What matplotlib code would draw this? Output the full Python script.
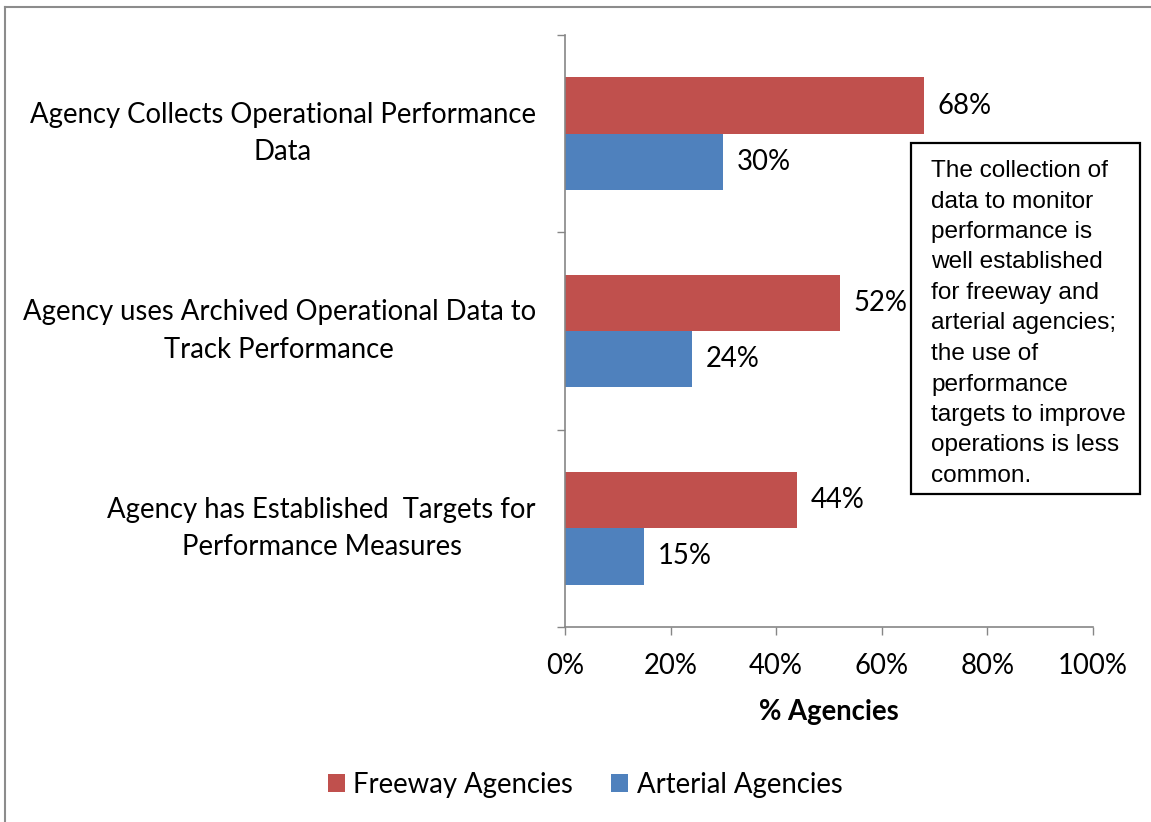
import matplotlib.pyplot as plt
from matplotlib.patches import Rectangle
import numpy as np

CATEGORIES = [
    "Agency Collects Operational Performance\nData",
    "Agency uses Archived Operational Data to\nTrack Performance",
    "Agency has Established  Targets for\nPerformance Measures",
]
FREEWAY = [68, 52, 44]
ARTERIAL = [30, 24, 15]
X_TICKS = [0, 20, 40, 60, 80, 100]
NOTE = ("The collection of\ndata to monitor\nperformance is\nwell established\n"
        "for freeway and\narterial agencies;\nthe use of\nperformance\n"
        "targets to improve\noperations is less\ncommon.")

RED = "#C0504D"
BLUE = "#4F81BD"
AXIS_GREY = "#868686"
W, H = 1151, 822
FS = 19.8

plt.rcParams["font.family"] = ["Lato", "DejaVu Sans"]

fig = plt.figure(figsize=(W / 100, H / 100), dpi=100)
ax = fig.add_axes([565 / W, 1 - 627 / H, (1093 - 565) / W, (627 - 35) / H])

y = np.arange(len(CATEGORIES))
h = 0.285
ax.barh(y - h / 2, FREEWAY, height=h, color=RED, label="Freeway Agencies")
ax.barh(y + h / 2, ARTERIAL, height=h, color=BLUE, label="Arterial Agencies")

for yi, v in zip(y - h / 2, FREEWAY):
    ax.annotate(f"{v}%", (v, yi), xytext=(10, 0), textcoords="offset points",
                ha="left", va="center", fontsize=FS)
for yi, v in zip(y + h / 2, ARTERIAL):
    ax.annotate(f"{v}%", (v, yi), xytext=(10, 0), textcoords="offset points",
                ha="left", va="center", fontsize=FS)

ax.set_xlim(0, 100)
ax.set_ylim(len(CATEGORIES) - 0.5, -0.5)
ax.set_xticks(X_TICKS)
ax.set_xticklabels([f"{t}%" for t in X_TICKS], fontsize=FS)
ax.set_yticks(y)
ax.set_yticklabels(CATEGORIES, fontsize=FS, linespacing=1.55, ha="right",
                   multialignment="center")
for lab in ax.get_yticklabels():
    lab.set_va("center")
ax.set_yticks(np.arange(-0.5, len(CATEGORIES)), minor=True)
ax.tick_params(axis="y", which="major", length=0, pad=21)
ax.tick_params(axis="y", which="minor", length=6, width=1, color=AXIS_GREY, direction="out")
ax.tick_params(axis="x", length=6, width=1, color=AXIS_GREY, direction="out", pad=13)
ax.set_xlabel("% Agencies", fontsize=FS, fontweight="bold", labelpad=14)

for side in ["top", "right"]:
    ax.spines[side].set_visible(False)
for side in ["left", "bottom"]:
    ax.spines[side].set_color(AXIS_GREY)
    ax.spines[side].set_linewidth(1.2)

# note box
fig.text(931 / W, 1 - 160 / H, NOTE, ha="left", va="top", fontsize=17.6,
         family="Liberation Sans", linespacing=1.5)
fig.add_artist(Rectangle((911 / W, 1 - 494 / H), (1140 - 911) / W, (494 - 143) / H,
                         transform=fig.transFigure, facecolor="none",
                         edgecolor="black", linewidth=1.6))

# outer chart border (left and top only visible)
fig.add_artist(plt.Line2D([5 / W, 5 / W], [0, 1 - 7 / H], transform=fig.transFigure,
                          color="#8c8c8c", linewidth=1.5))
fig.add_artist(plt.Line2D([5 / W, 1], [1 - 7 / H, 1 - 7 / H], transform=fig.transFigure,
                          color="#8c8c8c", linewidth=1.5))

handles, labels = ax.get_legend_handles_labels()
fig.legend(handles, labels, loc="center", bbox_to_anchor=(585 / W, 1 - 785 / H),
           ncol=2, frameon=False, fontsize=FS, handlelength=0.62, handleheight=0.62,
           handletextpad=0.3, columnspacing=1.4)

fig.savefig("out.png", dpi=100)
